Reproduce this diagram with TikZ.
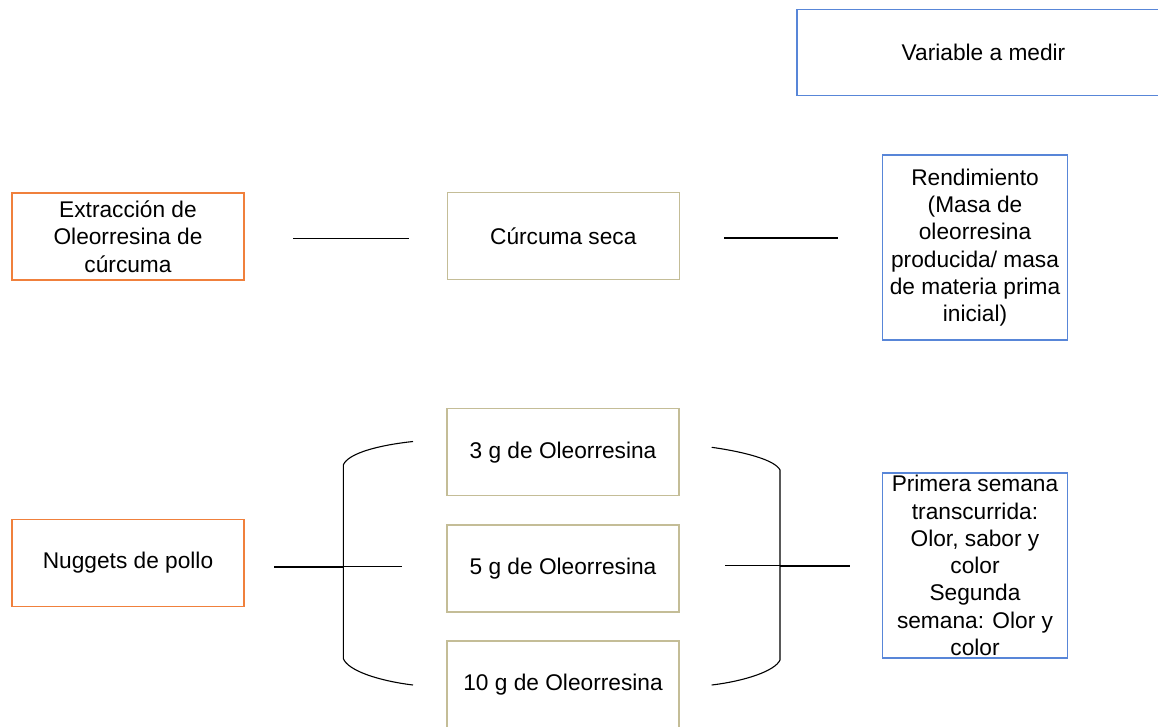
\documentclass[tikz,border=0pt]{standalone}
\usepackage{fontspec}
\setmainfont{Liberation Sans}
\definecolor{boxorange}{RGB}{240,128,60}
\definecolor{boxolive}{RGB}{196,189,151}
\definecolor{boxblue}{RGB}{88,134,216}
\begin{document}
\begin{tikzpicture}[x=1pt,y=-1pt,
  box/.style={draw, line width=1.2pt, align=center, inner sep=0pt,
    font=\fontsize{22.7}{27.3}\selectfont},
  obox/.style={box, draw=boxorange, minimum width=232pt, minimum height=87pt},
  gbox/.style={box, draw=boxolive, minimum width=232pt, minimum height=87pt},
  bbox/.style={box, draw=boxblue, minimum width=185pt, minimum height=185pt},
  thinline/.style={line width=1.1pt},
  thickline/.style={line width=2pt}]
\useasboundingbox (0,0) rectangle (1158,727);
% nodes
\node[box, draw=boxblue, minimum width=373pt, minimum height=86pt] (var) at (983.5,52.2) {Variable a medir};
\node[obox] (ext) at (128,236.5) {Extracción de\\Oleorresina de\\cúrcuma};
\node[gbox] (cur) at (563.3,236.2) {Cúrcuma seca};
\node[bbox] (ren) at (975,247.5) {Rendimiento\\(Masa de\\oleorresina\\producida/ masa\\de materia prima\\inicial)};
\node[obox] (nug) at (128,562.7) {Nuggets de pollo};
\node[gbox] (g3) at (563,452.3) {3 g de Oleorresina};
\node[gbox] (g5) at (563,568.5) {5 g de Oleorresina};
\node[gbox] (g10) at (563,684.5) {10 g de Oleorresina};
\node[bbox] (pri) at (975,565.5) {Primera semana\\transcurrida:\\Olor, sabor y\\color\\Segunda\\semana: Olor y\\color};
% coordinates for free line ends
\coordinate (t1a) at (293,238.3);
\coordinate (t1b) at (409,238.3);
\coordinate (t2a) at (724,238);
\coordinate (t2b) at (838,238);
\coordinate (lm0) at (274,566.7);
\coordinate (lm1) at (343.3,566.7);
\coordinate (lm2) at (401.7,566.7);
\coordinate (lbt) at (343.3,465);
\coordinate (lbb) at (343.3,658.5);
\coordinate (lct) at (413,441.5);
\coordinate (lcb) at (413,685);
\coordinate (rm0) at (725,565.7);
\coordinate (rm1) at (780,565.7);
\coordinate (rm2) at (850,565.7);
\coordinate (rbt) at (780,470);
\coordinate (rbb) at (780,660);
\coordinate (rct) at (711.7,447.3);
\coordinate (rcb) at (711.7,685);
% lines
\draw[thinline] (t1a) -- (t1b);
\draw[thinline] (t2a) -- (t2b);
\draw[thickline] (lm0) -- (lm1);
\draw[thinline] (lm1) -- (lm2);
\draw[thinline] (lct) .. controls (380,445) and (348,453) .. (lbt) -- (lbb)
  .. controls (348,671) and (380,681) .. (lcb);
\draw[thinline] (rm0) -- (rm1);
\draw[thickline] (rm1) -- (rm2);
\draw[thinline] (rct) .. controls (745,452) and (775,460) .. (rbt) -- (rbb)
  .. controls (775,671) and (745,681) .. (rcb);
\end{tikzpicture}
\end{document}
